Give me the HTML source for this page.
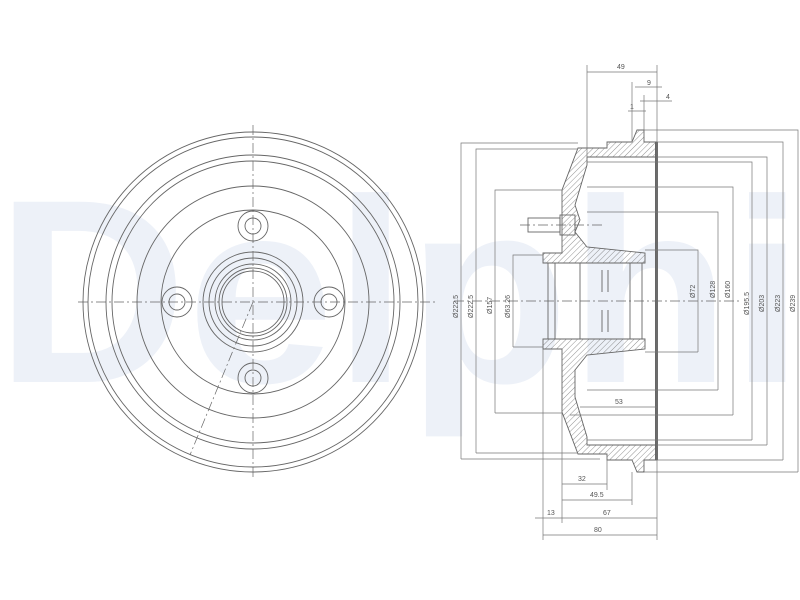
<!DOCTYPE html>
<html><head><meta charset="utf-8"><style>
html,body{margin:0;padding:0;background:#fff;width:800px;height:600px;overflow:hidden}
svg{display:block}
text{font-family:"Liberation Sans",sans-serif;fill:#555}
</style></head><body>
<svg width="800" height="600" viewBox="0 0 800 600" xmlns="http://www.w3.org/2000/svg">
<defs>
<pattern id="h" width="4" height="4" patternUnits="userSpaceOnUse" patternTransform="rotate(45)">
<line x1="0" y1="0" x2="0" y2="4" stroke="#777" stroke-width="0.8"/>
</pattern>
</defs>
<text x="-4" y="382" font-size="262" font-weight="bold" style="fill:#edf1f8" textLength="808" lengthAdjust="spacingAndGlyphs">Delphi</text>

<g fill="none" stroke="#666" stroke-width="0.9">
<circle cx="253" cy="302" r="170"/>
<circle cx="253" cy="302" r="165"/>
<circle cx="253" cy="302" r="147"/>
<circle cx="253" cy="302" r="141"/>
<circle cx="253" cy="302" r="116"/>
<circle cx="253" cy="302" r="92"/>
<circle cx="253" cy="302" r="50"/>
<circle cx="253" cy="302" r="44"/>
<circle cx="253" cy="302" r="38"/>
<circle cx="253" cy="302" r="34"/>
<circle cx="253" cy="302" r="31"/>
<circle cx="253" cy="226" r="15"/><circle cx="253" cy="226" r="8"/>
<circle cx="253" cy="378" r="15"/><circle cx="253" cy="378" r="8"/>
<circle cx="177" cy="302" r="15"/><circle cx="177" cy="302" r="8"/>
<circle cx="329" cy="302" r="15"/><circle cx="329" cy="302" r="8"/>
<g stroke-dasharray="10,3,2,3" stroke-width="0.7">
<line x1="78" y1="302" x2="435" y2="302"/>
<line x1="253" y1="125" x2="253" y2="478"/>
<line x1="253" y1="302" x2="190" y2="455"/>
<line x1="454" y1="301" x2="740" y2="301"/>
<line x1="520" y1="225" x2="603" y2="225"/>
</g>

<path fill="url(#h)" d="M578,148 L607,148 L607,142 L632,142 L637,130 L644,130 L644,142 L657,142 L657,157 L587,157 L587,165 L575,205 L580,220 L575,232 L587,247 L645,253 L645,263 L543,263 L543,253 L562,253 L562,190 Z"/>
<path fill="url(#h)" d="M578,454 L607,454 L607,460 L632,460 L637,472 L644,472 L644,460 L657,460 L657,445 L587,445 L587,437 L575,397 L575,370 L587,355 L645,349 L645,339 L543,339 L543,349 L562,349 L562,412 Z"/>
<rect x="655" y="142" width="3" height="318" fill="#666" stroke="none"/>
<rect x="528" y="218" width="32" height="14"/>
<rect x="560" y="215" width="15" height="20"/>
<line x1="548" y1="263" x2="548" y2="339"/>
<line x1="555" y1="263" x2="555" y2="339"/>
<line x1="580" y1="263" x2="580" y2="339"/>
<line x1="630" y1="263" x2="630" y2="339"/>
<line x1="642" y1="263" x2="642" y2="339"/>
<line x1="602" y1="270" x2="602" y2="292"/><line x1="608" y1="270" x2="608" y2="292"/>
<line x1="602" y1="310" x2="602" y2="332"/><line x1="608" y1="310" x2="608" y2="332"/>
</g>

<g fill="none" stroke="#777" stroke-width="0.7">
<path d="M461,459 V143 H578 M461,459 H600"/>
<path d="M476,453 V149 H578 M476,453 H578"/>
<path d="M495,413 V190 H562 M495,413 H562"/>
<path d="M513,347 V255 H543 M513,347 H543"/>
<path d="M698,352 V250 H645 M698,352 H645"/>
<path d="M718,390 V212 H587 M718,390 H587"/>
<path d="M733,415 V187 H587 M733,415 H570"/>
<path d="M752,440 V162 H587 M752,440 H587"/>
<path d="M767,445 V157 H657 M767,445 H657"/>
<path d="M783,460 V142 H657 M783,460 H657"/>
<path d="M798,472 V130 H644 M798,472 H644"/>
<path d="M580,407 H657"/>
<path d="M587,65 V165 M657,65 V540 M587,72 H657"/>
<path d="M632,82 V142 M644,95 V130 M635,87 H662 M640,101 H672 M628,111 H646"/>
<path d="M543,349 V540 M562,412 V523 M607,460 V490 M632,472 V505"/>
<path d="M562,484 H607 M562,500 H632 M535,518 H562 M562,518 H657 M543,535 H657"/>
</g>
<g font-size="7">
<text x="617" y="69">49</text>
<text x="647" y="85">9</text>
<text x="666" y="99">4</text>
<text x="630" y="109">1</text>
<text x="615" y="404">53</text>
<text x="578" y="481">32</text>
<text x="590" y="497">49.5</text>
<text x="547" y="515">13</text>
<text x="603" y="515">67</text>
<text x="594" y="532">80</text>
</g>
<g font-size="7">
<text transform="translate(458,318) rotate(-90)">Ø222.5</text>
<text transform="translate(473,318) rotate(-90)">Ø222.5</text>
<text transform="translate(492,314) rotate(-90)">Ø157</text>
<text transform="translate(510,318) rotate(-90)">Ø63.26</text>
<text transform="translate(695,298) rotate(-90)">Ø72</text>
<text transform="translate(715,298) rotate(-90)">Ø128</text>
<text transform="translate(730,298) rotate(-90)">Ø160</text>
<text transform="translate(749,315) rotate(-90)">Ø195.5</text>
<text transform="translate(764,312) rotate(-90)">Ø203</text>
<text transform="translate(780,312) rotate(-90)">Ø223</text>
<text transform="translate(795,312) rotate(-90)">Ø239</text>
</g>
</svg>
</body></html>
